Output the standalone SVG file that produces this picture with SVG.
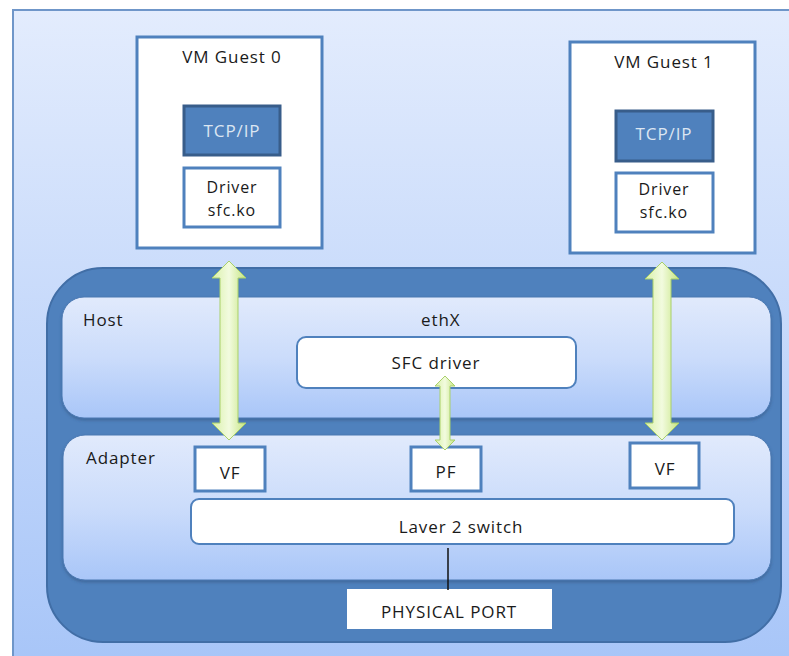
<svg xmlns="http://www.w3.org/2000/svg" width="789" height="656" viewBox="0 0 789 656">
<defs>
<linearGradient id="bg" x1="0" y1="0" x2="0" y2="1">
<stop offset="0" stop-color="#e3ecfd"/>
<stop offset="1" stop-color="#a7c5f8"/>
</linearGradient>
<linearGradient id="panel" x1="0" y1="0" x2="0" y2="1">
<stop offset="0" stop-color="#e1eafc"/>
<stop offset="0.5" stop-color="#cbdcfb"/>
<stop offset="1" stop-color="#a9c6f8"/>
</linearGradient>
<linearGradient id="arrow" x1="0" y1="0" x2="1" y2="0">
<stop offset="0" stop-color="#d9f0a8"/>
<stop offset="0.5" stop-color="#f2fbdf"/>
<stop offset="1" stop-color="#c6e582"/>
</linearGradient>
<filter id="sh" x="-5%" y="-5%" width="110%" height="115%">
<feDropShadow dx="0" dy="2" stdDeviation="1.5" flood-color="#2b4a73" flood-opacity="0.45"/>
</filter>
</defs>
<style>
text{font-family:"Open Sans","Liberation Sans",sans-serif;font-size:17px;fill:#1a1a1a;letter-spacing:0.9px}
.c{text-anchor:middle}
.s{font-size:16px}
.w{fill:#ffffff;stroke:#4f81bd;stroke-width:3}
.tcp{fill:#4f81bd;stroke:#385d8a;stroke-width:3}
.tcpt{fill:#dce6f2}
.pan{fill:url(#panel);stroke:#4a78b2;stroke-width:1}
.arr{fill:url(#arrow);stroke:#a9d06a;stroke-width:1}
</style>
<rect x="13" y="10" width="790" height="660" fill="url(#bg)" stroke="#6f96c9" stroke-width="2"/>

<g id="host-container">
<rect x="47" y="268" width="734" height="374" rx="56" ry="56" fill="#4f81bd" stroke="#416ea6" stroke-width="2"/>
</g>
<g id="host">
<rect class="pan" x="62" y="297" width="709" height="121" rx="22" ry="22" filter="url(#sh)"/>
<text x="83" y="326">Host</text>
<text x="421" y="326">ethX</text>
</g>
<g id="adapter">
<rect class="pan" x="63" y="435" width="708" height="145" rx="22" ry="22" filter="url(#sh)"/>
<text x="86" y="464">Adapter</text>
</g>

<g id="vm0">
<rect class="w" x="137" y="37" width="185" height="211"/>
<text class="c" x="232" y="63">VM Guest 0</text>
</g>
<g id="vm0-tcpip">
<rect class="tcp" x="184" y="106" width="96" height="49"/>
<text class="c tcpt" x="232" y="137">TCP/IP</text>
</g>
<g id="vm0-driver">
<rect class="w" x="184" y="168" width="96" height="59"/>
<text class="c s" x="232" y="193">Driver</text>
<text class="c s" x="232" y="216">sfc.ko</text>
</g>

<g id="vm1">
<rect class="w" x="570" y="42" width="185" height="211"/>
<text class="c" x="664" y="68">VM Guest 1</text>
</g>
<g id="vm1-tcpip">
<rect class="tcp" x="616" y="111" width="97" height="50"/>
<text class="c tcpt" x="664" y="140">TCP/IP</text>
</g>
<g id="vm1-driver">
<rect class="w" x="616" y="173" width="97" height="59"/>
<text class="c s" x="664" y="195">Driver</text>
<text class="c s" x="664" y="218">sfc.ko</text>
</g>

<g id="sfc-driver">
<rect x="297" y="337" width="279" height="51" rx="9" ry="9" fill="#fff" stroke="#4f81bd" stroke-width="2"/>
<text class="c" x="436" y="369">SFC driver</text>
</g>

<g id="vf0">
<rect class="w" x="195" y="447" width="70" height="44"/>
<text class="c" x="230" y="479">VF</text>
</g>
<g id="pf">
<rect class="w" x="411" y="447" width="70" height="44"/>
<text class="c" x="446" y="478">PF</text>
</g>
<g id="vf1">
<rect class="w" x="630" y="443" width="69" height="45"/>
<text class="c" x="665" y="475">VF</text>
</g>

<g id="switch">
<rect x="191" y="499" width="543" height="45" rx="8" ry="8" fill="#fff" stroke="#4f81bd" stroke-width="2"/>
<text class="c" x="461" y="533">Laver 2 switch</text>
</g>

<g id="physical-port">
<rect x="347" y="589" width="205" height="40" fill="#fff"/>
<text class="c" x="449" y="618">PHYSICAL PORT</text>
</g>

<g id="connectors">
<path class="arr" d="M229 261 L246 278 L238 278 L238 423 L246 423 L229 440 L212 423 L220 423 L220 278 L212 278 Z"/>
<path class="arr" d="M662 262 L679 279 L671 279 L671 423 L679 423 L662 440 L645 423 L653 423 L653 279 L645 279 Z"/>
<path class="arr" d="M445 376 L455 386 L450 386 L450 440 L455 440 L445 450 L435 440 L440 440 L440 386 L435 386 Z"/>
<line x1="448" y1="548" x2="448" y2="590" stroke="#111" stroke-width="1.5"/>
</g>
</svg>
